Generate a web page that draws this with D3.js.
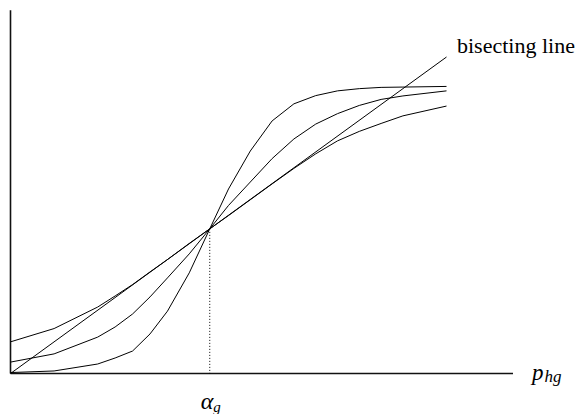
<!DOCTYPE html>
<html>
<head>
<meta charset="utf-8">
<script src="https://cdn.jsdelivr.net/npm/d3@7"></script>
<style>
  html, body { margin: 0; padding: 0; background: #fff; }
  svg { display: block; }
  text { font-family: "Liberation Serif", "Times New Roman", serif; fill: #000; }
</style>
</head>
<body>
<div id="chart"></div>
<script>
// ---- data (x and y in units where the bisecting line is y = x) ----
const xSamples = [0, 0.1, 0.2, 0.24, 0.28, 0.32, 0.36, 0.41, 0.457, 0.5, 0.55, 0.6, 0.65, 0.7, 0.75, 0.8, 0.85, 0.9, 1.0];
const steepCurve   = [0.003, 0.008, 0.030, 0.049, 0.071, 0.125, 0.197, 0.318, 0.457, 0.583, 0.703, 0.798, 0.852, 0.878, 0.893, 0.900, 0.904, 0.905, 0.907];
const middleCurve  = [0.036, 0.062, 0.115, 0.147, 0.188, 0.242, 0.302, 0.378, 0.457, 0.531, 0.605, 0.679, 0.741, 0.788, 0.821, 0.847, 0.866, 0.877, 0.893];
const shallowCurve = [0.100, 0.142, 0.210, 0.245, 0.281, 0.321, 0.360, 0.411, 0.457, 0.499, 0.549, 0.599, 0.648, 0.694, 0.735, 0.765, 0.790, 0.814, 0.845];
const bisectX = [0, 1];
const bisectY = [0, 1];
const alphaG = 0.457;
const axisMax = { x: 1.1525, y: 1.148 };
const labels = { line: "bisecting line", xMain: "p", xSub: "hg", aMain: "α", aSub: "g" };

// ---- drawing ----
const W = 576, H = 414;
const svg = d3.select("#chart").append("svg").attr("width", W).attr("height", H);

const x = d3.scaleLinear().domain([0, 1]).range([10.5, 446.5]);
const y = d3.scaleLinear().domain([0, 1]).range([373.5, 57]);

const line = d3.line().x(d => x(d[0])).y(d => y(d[1]));

// axes
svg.append("line")
  .attr("x1", x(0)).attr("y1", y(0)).attr("x2", x(0)).attr("y2", y(axisMax.y))
  .attr("stroke", "#111").attr("stroke-width", 1.6);
svg.append("line")
  .attr("x1", x(0)).attr("y1", y(0)).attr("x2", x(axisMax.x)).attr("y2", y(0))
  .attr("stroke", "#111").attr("stroke-width", 1.6);

// dotted vertical at alpha_g
svg.append("line")
  .attr("x1", x(alphaG)).attr("y1", y(alphaG)).attr("x2", x(alphaG)).attr("y2", y(0))
  .attr("stroke", "#000").attr("stroke-width", 1).attr("stroke-dasharray", "1,2");

// curves
[steepCurve, middleCurve, shallowCurve].forEach(series => {
  svg.append("path")
    .datum(xSamples.map((v, i) => [v, series[i]]))
    .attr("d", line)
    .attr("fill", "none").attr("stroke", "#000").attr("stroke-width", 1);
});

// bisecting line
svg.append("path")
  .datum(bisectX.map((v, i) => [v, bisectY[i]]))
  .attr("d", line)
  .attr("fill", "none").attr("stroke", "#000").attr("stroke-width", 1);

// labels
svg.append("text")
  .attr("x", x(1) + 10.5).attr("y", 53)
  .attr("font-size", 22)
  .text(labels.line);

const px = svg.append("text")
  .attr("x", x(axisMax.x) + 19).attr("y", 380)
  .attr("font-size", 23).attr("font-style", "italic");
px.append("tspan").text(labels.xMain);
px.append("tspan").attr("font-size", 17).attr("dx", 1).attr("dy", 2).text(labels.xSub);

const ax = svg.append("text")
  .attr("x", x(alphaG) - 9).attr("y", 409)
  .attr("font-size", 24).attr("font-style", "italic");
ax.append("tspan").text(labels.aMain);
ax.append("tspan").attr("font-size", 15).attr("dy", 3).text(labels.aSub);
</script>
</body>
</html>
